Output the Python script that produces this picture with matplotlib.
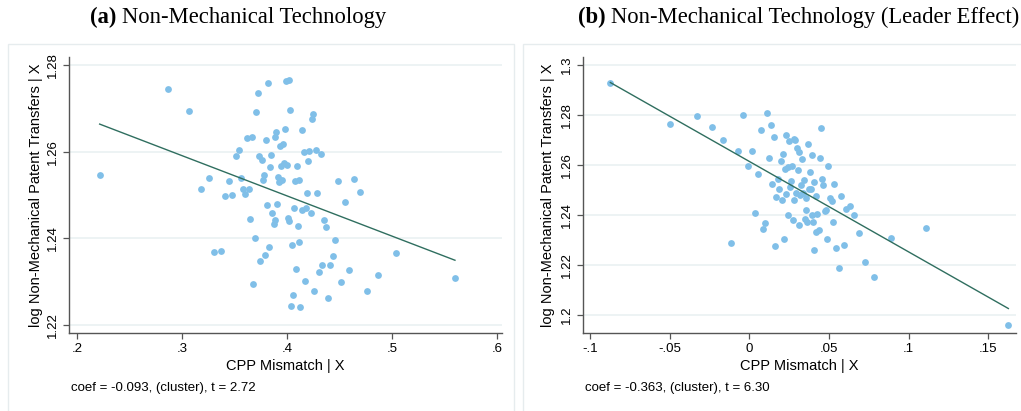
import matplotlib.pyplot as plt
from matplotlib.patches import Rectangle
import numpy as np

# panel (a): non-mechanical technology
a_x = [0.2216, 0.287, 0.3064, 0.318, 0.326, 0.3305, 0.3368, 0.341, 0.345, 0.348,
       0.351, 0.354, 0.356, 0.358, 0.360, 0.3635, 0.3616, 0.3667, 0.365, 0.368,
       0.3695, 0.3708, 0.3724, 0.3737, 0.376, 0.3746, 0.3772, 0.3781, 0.3794, 0.380,
       0.3813, 0.3822, 0.3832, 0.3841, 0.385, 0.386, 0.3873, 0.3883, 0.3886, 0.3898,
       0.3908, 0.3917, 0.3927, 0.3933, 0.394, 0.3952, 0.3965, 0.3971, 0.3984, 0.3994,
       0.4016, 0.4003, 0.4010, 0.4022, 0.4032, 0.4041, 0.4051, 0.406, 0.4067, 0.4076,
       0.4083, 0.4092, 0.4102, 0.4111, 0.4117, 0.4127, 0.414, 0.4146, 0.4159, 0.4168,
       0.4178, 0.419, 0.4203, 0.4213, 0.4225, 0.4238, 0.425, 0.426, 0.4276, 0.4289,
       0.4305, 0.4321, 0.4337, 0.4356, 0.4371, 0.439, 0.4413, 0.4435, 0.446, 0.4486,
       0.4518, 0.4552, 0.459, 0.4635, 0.4695, 0.4765, 0.4864, 0.5035, 0.56]
a_y = [1.2547, 1.2746, 1.2695, 1.2514, 1.254, 1.2368, 1.2371, 1.2498, 1.2532, 1.250,
       1.259, 1.2604, 1.254, 1.2515, 1.2502, 1.2513, 1.2631, 1.2635, 1.2445, 1.2295,
       1.2401, 1.2691, 1.2735, 1.259, 1.2582, 1.2348, 1.2535, 1.2546, 1.2361, 1.2626,
       1.2477, 1.2759, 1.2379, 1.2565, 1.2592, 1.2459, 1.2432, 1.2442, 1.2633, 1.2645,
       1.2479, 1.2542, 1.2530, 1.2614, 1.2568, 1.2534, 1.2618, 1.2574, 1.2652, 1.2764,
       1.2765, 1.2569, 1.2447, 1.2439, 1.2697, 1.2243, 1.2385, 1.2268, 1.2469, 1.2532,
       1.233, 1.2567, 1.2429, 1.2535, 1.2392, 1.2242, 1.2651, 1.2465, 1.260, 1.2302,
       1.247, 1.2505, 1.2579, 1.2602, 1.2459, 1.2675, 1.2687, 1.2279, 1.2605, 1.2505,
       1.2322, 1.2595, 1.2339, 1.2443, 1.2427, 1.2263, 1.2338, 1.2359, 1.2396, 1.2532,
       1.2298, 1.2484, 1.2327, 1.2538, 1.2506, 1.2277, 1.2315, 1.2367, 1.2307]
a_fit = (1.287, -0.093)  # intercept, slope
a_xticks = [0.2, 0.3, 0.4, 0.5, 0.6]
a_xlabels = [".2", ".3", ".4", ".5", ".6"]
a_yticks = [1.22, 1.24, 1.26, 1.28]
a_ylabels = ["1.22", "1.24", "1.26", "1.28"]

# panel (b): leader effect
b_x = [-0.0872, -0.0495, -0.0329, -0.0231, -0.0164, -0.0113, -0.0071, -0.004, -0.001, 0.0015,
       0.0038, 0.0057, 0.0071, 0.0086, 0.0101, 0.0113, 0.0124, 0.0134, 0.0145, 0.0153,
       0.0161, 0.017, 0.0182, 0.0189, 0.0197, 0.0205, 0.0212, 0.0218, 0.0222, 0.0228,
       0.0233, 0.0241, 0.0245, 0.0252, 0.0256, 0.0264, 0.0270, 0.0275, 0.0279, 0.0283,
       0.0289, 0.0294, 0.0298, 0.0304, 0.031, 0.0314, 0.032, 0.0327, 0.0333, 0.034,
       0.0346, 0.035, 0.0354, 0.0359, 0.0363, 0.0371, 0.0373, 0.0382, 0.0388, 0.0392,
       0.0396, 0.040, 0.0405, 0.0409, 0.0417, 0.0421, 0.0428, 0.0438, 0.0444, 0.0453,
       0.0459, 0.0465, 0.0474, 0.048, 0.0486, 0.0497, 0.0507, 0.0518, 0.0524, 0.0535,
       0.0547, 0.0562, 0.0577, 0.0593, 0.061, 0.0633, 0.0656, 0.0688, 0.0727, 0.0786,
       0.0891, 0.1107, 0.1627]
b_y = [1.2928, 1.2763, 1.2796, 1.2753, 1.2701, 1.2288, 1.2656, 1.2801, 1.2596, 1.2656,
       1.2409, 1.2563, 1.274, 1.2345, 1.2369, 1.2808, 1.2627, 1.276, 1.2525, 1.2712,
       1.2277, 1.2472, 1.2543, 1.2505, 1.2616, 1.2461, 1.2643, 1.2305, 1.2583, 1.272,
       1.2484, 1.2399, 1.2593, 1.2695, 1.2513, 1.2536, 1.2595, 1.2379, 1.2461, 1.2703,
       1.270, 1.2488, 1.2667, 1.2581, 1.236, 1.2653, 1.248, 1.252, 1.2624, 1.2489,
       1.2541, 1.2384, 1.2467, 1.2421, 1.2373, 1.2684, 1.2505, 1.2572, 1.2504, 1.2401,
       1.264, 1.2371, 1.226, 1.2531, 1.2331, 1.2477, 1.2405, 1.2339, 1.2627, 1.2748,
       1.2543, 1.252, 1.2416, 1.2421, 1.2305, 1.2597, 1.2467, 1.2457, 1.2372, 1.2524,
       1.2267, 1.2188, 1.2477, 1.2279, 1.2425, 1.2435, 1.240, 1.2327, 1.2211, 1.2151,
       1.2308, 1.2347, 1.1961]
b_fit = (1.2615, -0.362)
b_xticks = [-0.1, -0.05, 0, 0.05, 0.1, 0.15]
b_xlabels = ["-.1", "-.05", "0", ".05", ".1", ".15"]
b_yticks = [1.2, 1.22, 1.24, 1.26, 1.28, 1.3]
b_ylabels = ["1.2", "1.22", "1.24", "1.26", "1.28", "1.3"]

titles = ["Non-Mechanical Technology", "Non-Mechanical Technology (Leader Effect)"]
tags = ["(a)", "(b)"]
notes = ["coef = -0.093, (cluster), t = 2.72", "coef = -0.363, (cluster), t = 6.30"]
ylabel = "log Non-Mechanical Patent Transfers | X"
xlabel = "CPP Mismatch | X"

W, H = 1021, 411
fig = plt.figure(figsize=(W / 100, H / 100), dpi=100)
fig.patch.set_facecolor("white")

dot_color = "#80bfe8"
line_color = "#2f6e5f"
grid_color = "#eaf1f2"
spine_color = "#555555"
sans = "Liberation Sans"
serif = "Liberation Serif"

def fx(px):
    return px / W

def fy(py):
    return 1 - py / H

# light frames around each panel
for x0, x1 in [(8, 514), (523, 1030)]:
    fig.patches.append(Rectangle((fx(x0), fy(430)), fx(x1 - x0), (430 - 44) / H,
                                 transform=fig.transFigure, fill=False,
                                 edgecolor="#e6ecee", linewidth=1.0))

panels = [
    dict(x=a_x, y=a_y, fit=a_fit, xt=a_xticks, xl=a_xlabels, yt=a_yticks, yl=a_ylabels,
         xlim=(0.1924, 0.6048), ylim=(1.2181, 1.2819), left=69, right=502,
         ylab_x=36, title_x=90, note_x=71),
    dict(x=b_x, y=b_y, fit=b_fit, xt=b_xticks, xl=b_xlabels, yt=b_yticks, yl=b_ylabels,
         xlim=(-0.1044, 0.1675), ylim=(1.1928, 1.3033), left=583, right=1016,
         ylab_x=548, title_x=578, note_x=585),
]

for i, p in enumerate(panels):
    ax = fig.add_axes([fx(p["left"]), fy(333), fx(p["right"] - p["left"]), (333 - 57) / H])
    ax.set_facecolor("none")
    for yv in p["yt"]:
        ax.axhline(yv, color=grid_color, linewidth=1.2, zorder=1)
    ax.scatter(p["x"], p["y"], s=24, color=dot_color, linewidths=0, zorder=3)
    xs = np.array([min(p["x"]), max(p["x"])])
    ax.plot(xs, p["fit"][0] + p["fit"][1] * xs, color=line_color, linewidth=1.0, zorder=4)
    ax.set_xlim(*p["xlim"])
    ax.set_ylim(*p["ylim"])
    ax.set_xticks(p["xt"])
    ax.set_xticklabels(p["xl"], fontsize=9.5, family=sans)
    ax.set_yticks(p["yt"])
    ax.set_yticklabels(p["yl"], fontsize=9.5, family=sans, rotation=90, va="center")
    ax.tick_params(axis="both", length=4, width=0.9, color=spine_color, pad=3)
    ax.spines["top"].set_visible(False)
    ax.spines["right"].set_visible(False)
    for s in ["left", "bottom"]:
        ax.spines[s].set_color(spine_color)
        ax.spines[s].set_linewidth(1.0)

    mid = (p["left"] + p["right"]) / 2
    fig.text(fx(p["ylab_x"]), fy(195), ylabel, rotation=90, ha="center", va="center",
             fontsize=10.5, family=sans)
    fig.text(fx(mid), fy(366), xlabel, ha="center", va="center", fontsize=10.5, family=sans)
    fig.text(fx(p["note_x"]), fy(388), notes[i], ha="left", va="center", fontsize=9.5,
             family=sans)
    t = fig.text(fx(p["title_x"]), fy(17), tags[i] + " ", ha="left", va="center",
                 fontsize=16.3, family=serif, fontweight="bold")
    fig.canvas.draw()
    bb = t.get_window_extent()
    fig.text(bb.x1 / W, fy(17), titles[i], ha="left", va="center", fontsize=16.3, family=serif)

fig.savefig("out.png", dpi=100)
